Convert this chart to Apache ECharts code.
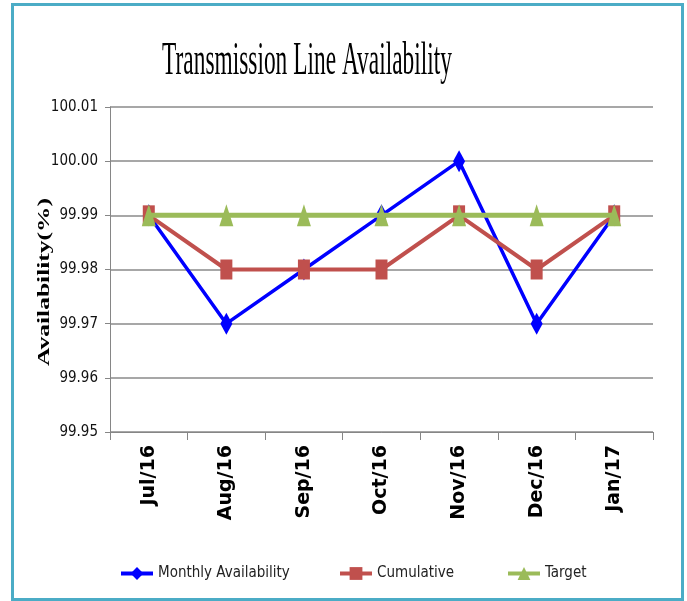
<!DOCTYPE html>
<html>
<head>
<meta charset="utf-8">
<script src="https://cdn.jsdelivr.net/npm/echarts@6/dist/echarts.min.js"></script>
<style>
html,body{margin:0;padding:0;background:#fff;}
#chart{width:687px;height:601px;}
</style>
</head>
<body>
<div id="chart"></div>
<script>
var categories = ['Jul/16','Aug/16','Sep/16','Oct/16','Nov/16','Dec/16','Jan/17'];
var monthly = [99.99, 99.97, 99.98, 99.99, 100.00, 99.97, 99.99];
var cumulative = [99.99, 99.98, 99.98, 99.98, 99.99, 99.98, 99.99];
var target = [99.99, 99.99, 99.99, 99.99, 99.99, 99.99, 99.99];
var titleText = 'Transmission Line Availability';
var yName = 'Availability(%)';

var narrow = '"DejaVu Sans Condensed", "Roboto Condensed", Roboto, sans-serif';
var chart = echarts.init(document.getElementById('chart'), null, {renderer:'canvas'});
var legendText = {fontFamily:narrow, fontSize:15, color:'#222'};
var legendLine = {width:4};
var legendBase = {top:566, padding:0, itemWidth:32, itemHeight:16, itemGap:5, lineStyle:legendLine, textStyle:legendText};
chart.setOption({
  animation:false,
  backgroundColor:'#fff',
  grid:{left:110, right:34, top:107, bottom:169, containLabel:false},
  graphic:[
    {type:'rect', shape:{x:12.5, y:4.5, width:670, height:595}, style:{fill:'none', stroke:'#4BACC6', lineWidth:3}, z:-1},
    {type:'text', x:307, y:62, scaleX:0.52, scaleY:1.05, style:{text:titleText, font:'45px "Liberation Serif"', fill:'#000', textAlign:'center', textVerticalAlign:'middle'}},
    {type:'text', x:45, y:282, rotation:Math.PI/2, scaleX:1.5, scaleY:1, style:{text:yName, font:'bold 17px "Liberation Serif"', fill:'#000', textAlign:'center', textVerticalAlign:'middle'}}
  ],
  legend:[
    Object.assign({data:['Monthly Availability'], left:119}, legendBase),
    Object.assign({data:['Cumulative'], left:338}, legendBase),
    Object.assign({data:['Target'], left:506}, legendBase)
  ],
  xAxis:{
    type:'category', data:categories, boundaryGap:true,
    axisLine:{lineStyle:{color:'#868686', width:1}},
    axisTick:{show:true, length:8, lineStyle:{color:'#868686'}},
    axisLabel:{rotate:90, margin:13, fontFamily:'DejaVu Sans', fontWeight:'bold', fontSize:19, color:'#000', interval:0}
  },
  yAxis:{
    type:'value', min:99.95, max:100.01, interval:0.01,
    axisLine:{show:true, lineStyle:{color:'#868686', width:1}},
    axisTick:{show:true, length:5, lineStyle:{color:'#868686'}},
    splitLine:{lineStyle:{color:'#8a8a8a', width:1.5}},
    axisLabel:{margin:12, fontFamily:narrow, fontSize:15, color:'#111', formatter:function(v){return v.toFixed(2);}}
  },
  series:[
    {name:'Monthly Availability', type:'line', data:monthly, color:'#0000FF',
     lineStyle:{width:3.5, color:'#0000FF'}, symbol:'diamond', symbolSize:[12,22], itemStyle:{color:'#0000FF'}, z:2},
    {name:'Cumulative', type:'line', data:cumulative, color:'#C0504D',
     lineStyle:{width:4, color:'#C0504D'}, symbol:'rect', symbolSize:[12,20], itemStyle:{color:'#C0504D'}, z:3},
    {name:'Target', type:'line', data:target, color:'#9BBB59',
     lineStyle:{width:5, color:'#9BBB59'}, symbol:'triangle', symbolSize:[14,22], itemStyle:{color:'#9BBB59'}, z:4}
  ]
});
</script>
</body>
</html>
